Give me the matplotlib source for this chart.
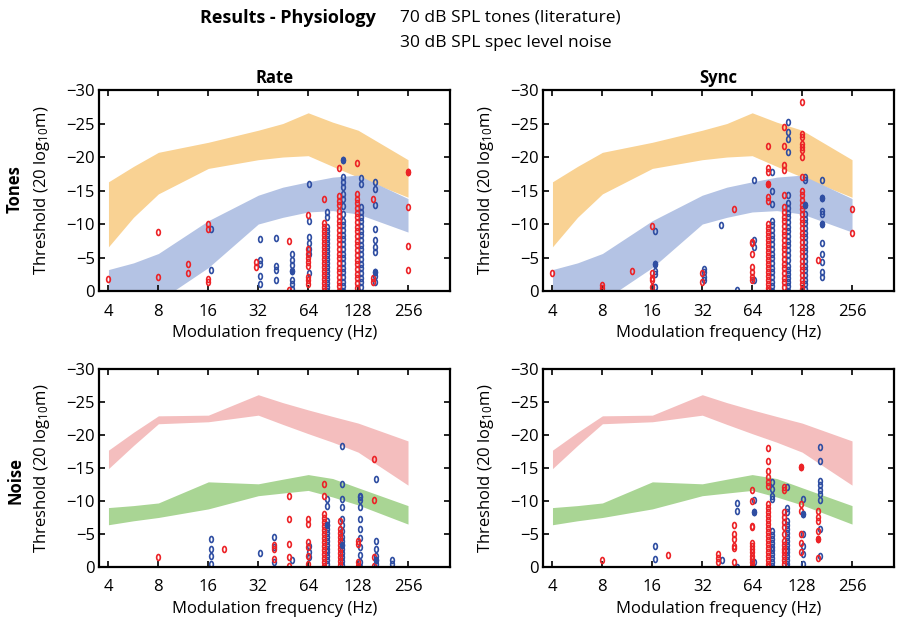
import matplotlib
matplotlib.use('Agg')
import matplotlib.pyplot as plt
from matplotlib.path import Path
import numpy as np

plt.rcParams['font.family'] = ['Open Sans', 'DejaVu Sans']
plt.rcParams['mathtext.fontset'] = 'custom'
plt.rcParams['mathtext.rm'] = 'Open Sans'
plt.rcParams['mathtext.it'] = 'Open Sans:italic'

# ---- literature bands (frequency in Hz, threshold in 20 log10 m) ----
band_f = [4, 5.66, 8, 16, 32, 45, 64, 90, 128, 256]

tone_hi_top = [-16.3, -18.6, -20.7, -22.2, -24.0, -25.0, -26.6, -25.2, -24.0, -19.6]
tone_hi_bot = [-6.6, -11.0, -14.5, -18.3, -19.6, -20.0, -20.2, -18.6, -17.0, -14.0]
tone_lo_top = [-3.2, -4.2, -5.6, -10.5, -14.3, -15.5, -16.3, -17.0, -17.3, -13.8]
tone_lo_bot = [4.0, 2.8, 1.5, -3.5, -10.0, -11.0, -11.8, -12.0, -11.5, -8.8]

noise_hi_top = [-17.7, -20.4, -22.9, -23.0, -26.1, -24.9, -23.8, -22.8, -21.8, -19.1]
noise_hi_bot = [-14.9, -18.4, -21.7, -22.0, -23.0, -21.6, -20.2, -18.9, -17.4, -12.4]
noise_lo_top = [-9.0, -9.3, -9.7, -12.9, -12.6, -13.3, -14.0, -13.4, -12.0, -9.3]
noise_lo_bot = [-6.4, -7.0, -7.5, -8.8, -10.8, -11.2, -11.6, -10.6, -9.4, -6.5]

# ---- physiology data: (frequency, [thresholds]) columns ----
rate_tones_red = [
    (4, [-1.8]), (8, [-8.8, -2.1]), (12, [-4.0, -2.7]), (16, [-10.0, -9.2, -1.8, -1.3]),
    (31, [-4.3, -3.6]), (49, [-7.5, -0.1]),
    (64, [-11.3, -6.2, -5.6, -5.0, -4.4, -3.7, -2.1, -1.6, -1.0]),
    (80, [-13.7, -10.2, -9.6, -9.0, -8.4, -7.8, -7.2, -6.6, -6.0, -5.4, -4.8, -4.2,
          -3.6, -3.0, -2.4, -1.8, -1.2, -0.6, 0.0]),
    (98, [-18.4, -14.2, -13.5, -12.8, -12.0, -11.2, -10.5, -9.8, -9.1, -8.4, -7.7, -7.0,
          -6.3, -5.6, -4.9, -4.2, -3.5, -2.8, -2.1, -1.4, -0.7, 0.0]),
    (126, [-19.1, -14.5, -13.8, -13.1, -12.4, -11.7, -11.0, -10.3, -9.6, -8.9, -8.2, -7.5,
           -6.8, -6.1, -5.4, -4.7, -4.0, -3.3, -2.6, -1.9, -1.2, -0.5]),
    (157, [-13.8, -2.0, -1.3]), (256, [-17.8, -12.6, -6.7, -3.2]),
]
rate_tones_blue = [
    (16.5, [-9.2, -3.2]), (33, [-7.8, -4.7, -4.0, -2.3, -1.0]),
    (41, [-7.9, -3.8, -3.1, -1.7]),
    (51, [-5.5, -4.7, -3.9, -3.0, -1.6, -1.0, -0.3]),
    (65, [-15.9, -10.5, -8.1, -7.1, -6.3, -5.6, -2.7]),
    (83, [-11.8, -11.1, -9.6, -9.0, -8.4, -7.8, -7.2, -6.6, -6.0, -5.4, -4.8, -4.2, -3.6,
          -3.0, -2.4, -1.8, -1.2, -0.6, 0.0]),
    (104, [-19.5, -17.0, -16.3, -15.5, -14.5, -13.7, -12.7, -11.5, -10.5, -9.8, -9.1,
           -8.4, -7.7, -7.0, -6.3, -5.6, -4.9, -4.2, -3.5, -2.8, -2.1, -1.4, -0.7, 0.0]),
    (133, [-16.8, -16.0, -12.5, -11.8, -11.1, -10.4, -9.7, -9.0, -8.3, -7.6, -6.9, -6.2,
           -5.5, -4.8, -4.1, -3.4, -2.7, -2.0, -1.3, -0.6]),
    (162, [-16.3, -15.3, -12.8, -9.3, -7.6, -6.6, -5.8, -2.8, -2.3, -1.3]),
]
rate_tones_filled = [(104, -19.5, 'blue'), (51, -3.0, 'blue'), (162, -2.8, 'blue'), (256, -17.8, 'red')]

sync_tones_red = [
    (4, [-2.7]), (8, [-0.9, -0.5]), (12, [-3.0]), (16, [-9.7, -2.7, -2.0, -1.6, -0.6]),
    (32, [-2.7, -1.4]), (50, [-12.3]),
    (64, [-7.3, -7.1, -5.6, -3.6, -2.8, -2.1, -1.6]),
    (80, [-21.7, -18.3, -17.8, -16.0, -14.0, -13.5, -10.0, -9.4, -8.8, -8.2, -7.6, -7.0,
          -6.4, -5.8, -5.2, -4.6, -4.0, -3.4, -2.8, -2.2, -1.6, -1.0, -0.4, 0.0]),
    (100, [-24.5, -21.7, -18.8, -18.0, -14.3, -12.5, -11.8, -11.1, -10.4, -9.7, -9.0,
           -8.3, -7.6, -6.9, -6.2, -5.5, -4.8, -4.1, -3.4, -2.7, -2.0, -1.3, -0.6]),
    (128, [-28.2, -23.5, -23.0, -22.0, -21.5, -21.0, -20.0, -17.0, -15.0, -14.3, -13.6,
           -12.9, -12.2, -11.5, -10.8, -10.1, -9.4, -8.7, -8.0, -7.3, -6.6, -5.9, -5.2,
           -4.5, -3.8, -3.1, -2.4, -1.7, -1.0, -0.3]),
    (160, [-4.6]), (256, [-12.3, -8.7]),
]
sync_tones_blue = [
    (16.6, [-9.0, -4.0, -3.0, -2.6, -0.6]), (33, [-3.3, -2.8, -2.1, -1.6]),
    (41.6, [-9.9]), (52, [-0.2]), (66, [-16.5, -7.6, -6.6, -1.6]),
    (84, [-17.7, -15.0, -13.0, -10.5, -9.8, -9.1, -8.4, -7.7, -7.0, -6.3, -5.6, -4.9,
          -4.2, -3.5, -2.8, -2.1, -1.4, -0.7, 0.0]),
    (105, [-25.2, -23.7, -22.7, -20.7, -14.3, -13.1, -12.4, -11.7, -11.0, -10.3, -9.6,
           -8.9, -8.2, -7.5, -6.8, -6.1, -5.4, -4.7, -3.8, -3.2, -2.6, -2.0, -1.4, -0.7, 0.0]),
    (133, [-17.0, -16.5, -12.8, -11.5, -10.8, -10.1, -9.4, -8.7, -8.0, -7.3, -6.6, -5.9,
           -5.2, -4.5, -3.8, -3.1, -2.4, -1.7, -1.0, -0.3]),
    (169, [-16.5, -13.9, -12.0, -11.5, -10.0, -7.2, -5.6, -4.3, -2.8, -2.1]),
]
sync_tones_filled = [(80, -16.0, 'red'), (16.6, -4.0, 'blue'), (169, -13.9, 'blue'),
                     (169, -10.0, 'blue'), (133, -12.8, 'blue')]

rate_noise_red = [
    (8, [-1.5]), (20, [-2.7]), (40, [-3.3, -2.7, -1.2]),
    (49, [-10.8, -7.3, -3.5, -1.5, -0.2]),
    (64, [-7.3, -6.5, -3.8, -3.0, -1.7, -0.5]),
    (80, [-12.5, -10.8, -8.0, -7.4, -6.8, -6.2, -5.6, -5.0, -4.4, -3.8, -3.2, -2.6,
          -2.0, -1.4, -0.8, -0.2]),
    (99, [-7.0, -5.7, -5.1, -4.5, -3.9, -3.3, -2.7, -2.1, -1.5, -0.9, -0.3]),
    (128, [-4.0, -3.5, -0.7, -0.2]), (160, [-16.4, -10.1, -1.5, -0.1]),
]
rate_noise_blue = [
    (16.5, [-4.2, -2.8, -1.7, -0.5]), (33, [-2.1]), (40, [-4.5, -3.0, -0.8]),
    (51, [-1.1]), (65, [-3.2, -2.2, -1.5]),
    (83, [-10.3, -9.3, -7.0, -6.4, -5.8, -5.2, -4.6, -4.0, -3.4, -2.8, -2.2, -1.6,
          -1.0, -0.4]),
    (103, [-18.4, -12.6, -10.3, -9.1, -7.3, -6.3, -5.5, -4.5, -3.9, -3.3, -2.7, -2.1,
           -1.5, -0.9, -0.3]),
    (132, [-10.8, -10.6, -10.1, -9.1, -7.2, -5.8, -4.4, -3.0, -1.8, -0.7, 0.0]),
    (164, [-13.3, -4.0, -2.7, -1.7, -1.0, -0.5]), (205, [-1.1, -0.5, 0.3]),
]
rate_noise_filled = [(83, -6.4, 'blue'), (103, -3.3, 'blue'), (164, -1.0, 'blue')]

sync_noise_red = [
    (8, [-1.0]), (20, [-1.8]), (40, [-1.9, -1.3, -0.7]),
    (50, [-6.4, -5.0, -4.2, -3.2, -2.9, -0.7]),
    (64, [-11.6, -10.0, -6.2, -6.0, -3.7, -3.2, -2.7, -2.2, -1.7, -1.2, -0.7, -0.2]),
    (80, [-18.0, -16.0, -14.6, -13.6, -12.9, -12.3, -9.5, -8.9, -8.3, -7.7, -7.1, -6.5,
          -5.9, -5.3, -4.7, -4.1, -3.5, -2.9, -2.3, -1.7, -1.1, -0.5, 0.0]),
    (100, [-12.1, -11.6, -8.3, -7.5, -6.8, -6.0, -5.0, -4.0, -3.4, -2.8, -2.2, -1.6,
           -1.0, -0.4]),
    (126, [-15.2, -9.6, -8.5, -5.0, -3.6, -2.2]),
    (160, [-8.5, -7.5, -6.9, -5.5, -4.2, -1.4]),
]
sync_noise_blue = [
    (16.5, [-3.2, -1.2]), (42, [-1.0]), (52, [-9.7, -8.5, 0.0]),
    (66, [-10.1, -8.3, -0.7]),
    (84, [-12.9, -11.8, -10.8, -10.3, -5.5, -4.9, -4.3, -3.7, -3.1, -2.5, -1.9, -1.3,
          -0.7, -0.1]),
    (104, [-12.1, -9.0, -8.3, -7.0, -6.4, -5.8, -5.2, -4.6, -4.0, -3.4, -2.8, -2.2,
           -1.6, -1.0, -0.4, 0.0]),
    (130, [-10.3, -8.0, -5.0, -3.2, -1.9, -0.4]),
    (164, [-18.2, -16.0, -13.1, -12.4, -11.6, -11.1, -10.1, -5.7, -1.7]),
]
sync_noise_filled = [(126, -15.2, 'red'), (66, -8.3, 'blue'), (130, -8.0, 'blue'),
                     (160, -4.2, 'red')]

xticks = [4, 8, 16, 32, 64, 128, 256]
yticks = [0, -5, -10, -15, -20, -25, -30]

ORANGE = '#F9D293'
LBLUE = '#B4C3E4'
PINK = '#F4BEBE'
GREEN = '#A9D594'
RED = '#EC2327'
BLUE = '#2F4EA2'

# small upright oval used for the unit markers
_t = np.linspace(0, 2 * np.pi, 25)
OVAL = Path(np.column_stack([0.62 * np.cos(_t), np.sin(_t)]), closed=True)

fig = plt.figure(figsize=(8.99, 6.2), dpi=100)

panels = [
    ([0.1101, 0.5306, 0.3904, 0.3242], 'tones', rate_tones_red, rate_tones_blue, rate_tones_filled),
    ([0.6040, 0.5306, 0.3904, 0.3242], 'tones', sync_tones_red, sync_tones_blue, sync_tones_filled),
    ([0.1101, 0.0855, 0.3904, 0.3194], 'noise', rate_noise_red, rate_noise_blue, rate_noise_filled),
    ([0.6040, 0.0855, 0.3904, 0.3194], 'noise', sync_noise_red, sync_noise_blue, sync_noise_filled),
]

axes = []
for rect, kind, reds, blues, filled in panels:
    ax = fig.add_axes(rect)
    axes.append(ax)
    if kind == 'tones':
        ax.fill_between(band_f, tone_hi_bot, tone_hi_top, color=ORANGE, lw=0)
        ax.fill_between(band_f, tone_lo_bot, tone_lo_top, color=LBLUE, lw=0)
    else:
        ax.fill_between(band_f, noise_hi_bot, noise_hi_top, color=PINK, lw=0)
        ax.fill_between(band_f, noise_lo_bot, noise_lo_top, color=GREEN, lw=0)

    for cols, c in ((blues, BLUE), (reds, RED)):
        for f, vals in cols:
            ax.plot([f] * len(vals), vals, ls='none', marker=OVAL, ms=4.3,
                    mfc='none', mec=c, mew=1.2)
    for f, v, cname in filled:
        c = RED if cname == 'red' else BLUE
        ax.plot([f], [v], ls='none', marker=OVAL, ms=4.3, mfc=c, mec=c, mew=1.2)

    ax.set_xscale('log', base=2)
    ax.set_xlim(2 ** 1.81, 2 ** 8.84)
    ax.set_ylim(0, -30)
    ax.set_xticks(xticks)
    ax.set_xticklabels([str(t) for t in xticks])
    ax.xaxis.set_minor_locator(matplotlib.ticker.NullLocator())
    ax.set_yticks(yticks)
    ax.set_yticklabels(['0' if t == 0 else '\u2212%d' % abs(t) for t in yticks])
    ax.tick_params(direction='in', top=True, right=True, length=4, width=1.2,
                   labelsize=12, pad=3, colors='black')
    ax.tick_params(axis='x', pad=9)
    for s in ax.spines.values():
        s.set_linewidth(1.6)
    ax.set_xlabel('Modulation frequency (Hz)', fontsize=12, labelpad=4)
    ax.set_ylabel('Threshold (20 log$_{10}$m)', fontsize=12, labelpad=10)

axes[0].set_title('Rate', fontsize=12, fontweight='bold', pad=5)
axes[1].set_title('Sync', fontsize=12, fontweight='bold', pad=5)

fig.text(15 / 899, 1 - 189 / 620, 'Tones', rotation=90, fontsize=12, fontweight='bold',
         ha='center', va='center')
fig.text(15 / 899, 1 - 480 / 620, 'Noise', rotation=90, fontsize=12, fontweight='bold',
         ha='center', va='center')

fig.text(376 / 899, 1 - 18 / 620, 'Results - Physiology', fontsize=13, fontweight='bold',
         ha='right', va='center')
fig.text(400 / 899, 1 - 18 / 620, '70 dB SPL tones (literature)', fontsize=12.5,
         ha='left', va='center')
fig.text(400 / 899, 1 - 43 / 620, '30 dB SPL spec level noise', fontsize=12.5,
         ha='left', va='center')

fig.savefig('out.png', dpi=100)
